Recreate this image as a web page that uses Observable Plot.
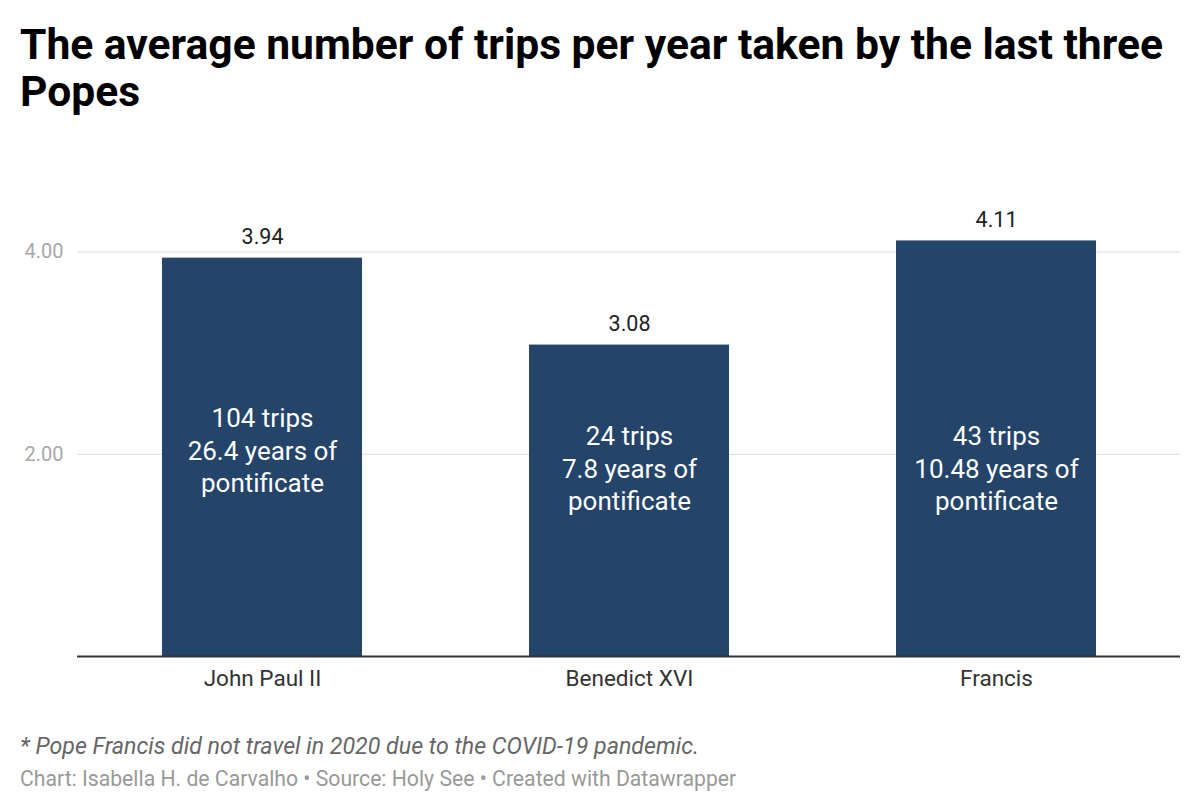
<!DOCTYPE html>
<html>
<head>
<meta charset="utf-8">
<script src="https://cdn.jsdelivr.net/npm/d3@7"></script>
<script src="https://cdn.jsdelivr.net/npm/@observablehq/plot@0.6"></script>
<style>
  html, body { margin: 0; padding: 0; background: #fff; }
  body { width: 1200px; height: 812px; position: relative; overflow: hidden; font-family: Roboto, "Noto Sans", sans-serif; }
  #title { position: absolute; left: 20px; top: 21px; width: 1175px; font-size: 42.6px; line-height: 47px; font-weight: 700; color: #000; }
  #chart { position: absolute; left: 0; top: 150px; }
  #note { position: absolute; left: 20px; top: 734px; font-size: 23.2px; line-height: 24px; font-style: italic; color: #666; white-space: nowrap; }
  #credit { position: absolute; left: 20px; top: 767px; font-size: 21.2px; line-height: 24px; color: #999; white-space: nowrap; }
</style>
</head>
<body>
<div id="title">The average number of trips per year taken by the last three Popes</div>
<div id="chart"></div>
<div id="note">* Pope Francis did not travel in 2020 due to the COVID-19 pandemic.</div>
<div id="credit">Chart: Isabella H. de Carvalho • Source: Holy See • Created with Datawrapper</div>
<script>
const popes = ["John Paul II", "Benedict XVI", "Francis"];
const tripsPerYear = [3.94, 3.08, 4.11];
const barNotes = [
  "104 trips\n26.4 years of\npontificate",
  "24 trips\n7.8 years of\npontificate",
  "43 trips\n10.48 years of\npontificate"
];
const noteAnchor = [2.05, 1.87, 1.87];
const yTicks = [2, 4];

const data = popes.map((p, i) => ({ pope: p, value: tripsPerYear[i], note: barNotes[i], anchor: noteAnchor[i] }));

const chart = Plot.plot({
  width: 1200,
  height: 560,
  marginLeft: 77,
  marginRight: 20,
  marginTop: 51,
  marginBottom: 54,
  style: { fontFamily: "Roboto, 'Noto Sans', sans-serif", background: "#fff" },
  x: { domain: popes, paddingInner: 0.456, paddingOuter: 0.228, label: null },
  y: { domain: [0, 4.5], label: null },
  marks: [
    Plot.ruleY(yTicks, { stroke: "#e3e3e3", strokeWidth: 1.2 }),
    Plot.axisY(yTicks, { tickSize: 0, tickPadding: 14, tickFormat: d3.format(".2f"), fontSize: 20, fill: "#a8a8a8", label: null }),
    Plot.barY(data, { x: "pope", y: "value", fill: "#24446a" }),
    Plot.ruleY([0], { stroke: "#333", strokeWidth: 2 }),
    Plot.axisX({ tickSize: 0, tickPadding: 14, fontSize: 22.5, fill: "#333", label: null }),
    Plot.text(data, { x: "pope", y: "value", text: d => d.value.toFixed(2), dy: -21, fontSize: 21.5, fill: "#222" }),
    Plot.text(data, { x: "pope", y: "anchor", text: "note", fontSize: 26, lineHeight: 1.25, fill: "#fff" })
  ]
});
document.getElementById("chart").appendChild(chart);
</script>
</body>
</html>
